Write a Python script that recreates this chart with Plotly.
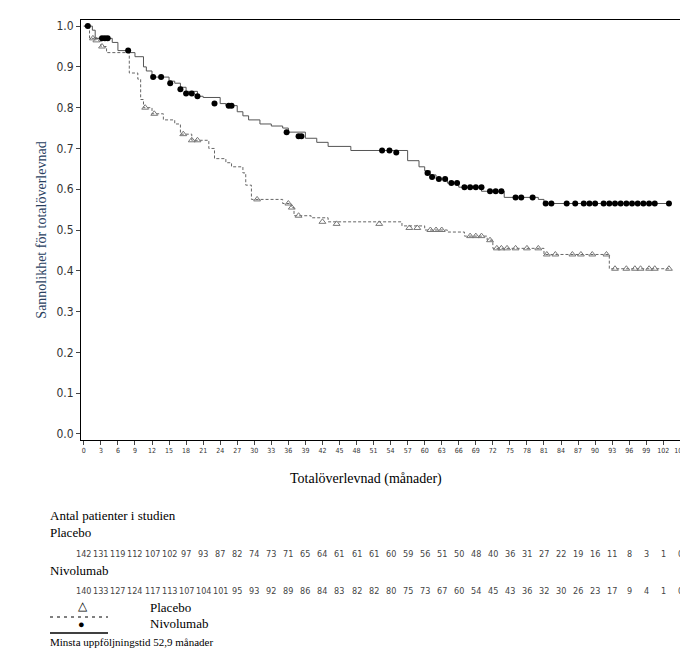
import plotly.graph_objects as go

# Kaplan-Meier step points (time in months, survival)
nivo_t = [0, 1.5, 2, 5, 6, 7.5, 9, 10.5, 11, 12, 15, 16, 17, 18, 20, 21, 24, 25, 27, 28, 29, 31, 33, 35,
          36, 39, 41, 43, 47, 57, 59, 60, 61, 62, 64, 66, 70, 74, 76, 80, 81, 103]
nivo_s = [1.0, 0.99, 0.97, 0.96, 0.94, 0.935, 0.925, 0.9, 0.89, 0.875, 0.865, 0.86, 0.85, 0.84, 0.828,
          0.825, 0.81, 0.805, 0.79, 0.78, 0.77, 0.76, 0.755, 0.75, 0.74, 0.725, 0.715, 0.705, 0.695,
          0.67, 0.655, 0.645, 0.635, 0.625, 0.615, 0.605, 0.595, 0.58, 0.58, 0.575, 0.565, 0.565]
nivo_ct = [0.7, 3.2, 3.7, 4.2, 7.8, 12.2, 13.6, 15.2, 17, 18, 19, 20, 23, 25.5, 26, 35.7, 37.8, 38.3,
           52.5, 53.8, 55, 60.5, 61.3, 62.5, 63.6, 64.7, 65.7, 67, 68, 69, 70, 71.5, 72.5, 73.5,
           76, 77, 79, 81.3, 82.3, 85, 86.5, 88, 89, 90, 91.5, 92.5, 93.5, 94.5, 95.5, 96.5, 97.5,
           98.5, 99.5, 100.5, 103]
nivo_cs = [1.0, 0.97, 0.97, 0.97, 0.94, 0.875, 0.875, 0.86, 0.845, 0.835, 0.835, 0.828, 0.81, 0.805,
           0.805, 0.74, 0.73, 0.73, 0.695, 0.695, 0.69, 0.64, 0.63, 0.625, 0.625, 0.615, 0.615, 0.605,
           0.605, 0.605, 0.605, 0.595, 0.595, 0.595, 0.58, 0.58, 0.58, 0.565, 0.565] + [0.565] * 16

plac_t = [0, 1, 3, 4, 8, 9.5, 10, 10.5, 12, 14, 16, 17, 19, 22, 23, 25, 26, 28, 28.5, 29.5, 35, 36.5,
          37, 40, 43, 56, 60, 64, 67, 71, 72, 81, 92.5, 103]
plac_s = [1.0, 0.97, 0.95, 0.935, 0.885, 0.87, 0.82, 0.8, 0.785, 0.77, 0.76, 0.735, 0.72, 0.7, 0.675,
          0.665, 0.655, 0.64, 0.61, 0.575, 0.565, 0.555, 0.535, 0.53, 0.52, 0.51, 0.5, 0.495, 0.485,
          0.475, 0.455, 0.44, 0.405, 0.405]
plac_ct = [1.6, 2.2, 3.2, 10.8, 12.4, 17.5, 19, 20, 30.5, 36, 36.6, 37.8, 42, 44.5, 52, 57.3, 58.7,
           61, 62, 63, 68, 69, 70, 71.5, 72.7, 73.5, 74.5, 76, 78, 80, 81.5, 83, 86, 87.5, 89.5, 92,
           93.5, 95.5, 97, 98, 99.5, 100.5, 103]
plac_cs = [0.97, 0.965, 0.95, 0.8, 0.785, 0.735, 0.72, 0.72, 0.575, 0.565, 0.555, 0.535, 0.52, 0.515,
           0.515, 0.505, 0.505, 0.5, 0.5, 0.5, 0.485, 0.485, 0.485, 0.475, 0.455, 0.455, 0.455, 0.455,
           0.455, 0.455, 0.44, 0.44, 0.44, 0.44, 0.44, 0.44, 0.405, 0.405, 0.405, 0.405, 0.405, 0.405,
           0.405]

risk_months = list(range(0, 106, 3))
risk_placebo = [142, 131, 119, 112, 107, 102, 97, 93, 87, 82, 74, 73, 71, 65, 64, 61, 61, 61, 60, 59,
                56, 51, 50, 48, 40, 36, 31, 27, 22, 19, 16, 11, 8, 3, 1, 0]
risk_nivo = [140, 133, 127, 124, 117, 113, 107, 104, 101, 95, 93, 92, 89, 86, 84, 83, 82, 82, 80, 75,
             73, 67, 60, 54, 45, 43, 36, 32, 30, 26, 23, 17, 9, 4, 1, 0]

SERIF = "Liberation Serif, Times New Roman, serif"
SANS = "Liberation Sans Narrow, DejaVu Sans Condensed, Arial Narrow, sans-serif"
H_PLOT = 420  # plot height in px, used to place text below the axes

fig = go.Figure()
fig.add_trace(go.Scatter(x=plac_t, y=plac_s, mode="lines", line_shape="hv",
                         line=dict(color="#666", width=1, dash="3px,2px")))
fig.add_trace(go.Scatter(x=plac_ct, y=plac_cs, mode="markers",
                         marker=dict(symbol="triangle-up-open", size=6, color="#777", line=dict(width=1))))
fig.add_trace(go.Scatter(x=nivo_t, y=nivo_s, mode="lines", line_shape="hv",
                         line=dict(color="#555", width=1)))
fig.add_trace(go.Scatter(x=nivo_ct, y=nivo_cs, mode="markers",
                         marker=dict(symbol="circle", size=6, color="black")))


def py(pix):
    return (432 - pix) / H_PLOT


ann = []
for m, a, b in zip(risk_months, risk_placebo, risk_nivo):
    ann.append(dict(x=m, y=py(553), xref="x", yref="paper", text=str(a), showarrow=False,
                    font=dict(family=SANS, size=9, color="#444")))
    ann.append(dict(x=m, y=py(590), xref="x", yref="paper", text=str(b), showarrow=False,
                    font=dict(family=SANS, size=9, color="#444")))

texts = [
    (358, 481, "Totalöverlevnad (månader)", "center", 14),
    (40, 517, "Antal patienter i studien", "left", 13),
    (40, 534, "Placebo", "left", 13),
    (40, 572, "Nivolumab", "left", 13),
    (140, 609, "Placebo", "left", 13),
    (140, 625, "Nivolumab", "left", 13),
    (40, 642, "Minsta uppföljningstid 52,9 månader", "left", 11),
]
for xp, yp, t, al, sz in texts:
    ann.append(dict(x=(xp - 73) / 605, y=py(yp), xref="paper", yref="paper", text=t, showarrow=False,
                    xanchor=al, font=dict(family=SERIF, size=sz, color="black")))
ann.append(dict(x=(68 - 73) / 605, y=py(608), xref="paper", yref="paper", text="△", showarrow=False,
                font=dict(size=12, color="black")))
ann.append(dict(x=(68 - 73) / 605, y=py(625), xref="paper", yref="paper", text="●", showarrow=False,
                font=dict(size=11, color="black")))

shapes = [
    dict(type="line", xref="paper", yref="paper", x0=(42 - 73) / 605, x1=(100 - 73) / 605,
         y0=py(609), y1=py(609), line=dict(color="black", width=1, dash="3px,4px")),
    dict(type="line", xref="paper", yref="paper", x0=(42 - 73) / 605, x1=(100 - 73) / 605,
         y0=py(625), y1=py(625), line=dict(color="black", width=1.3)),
]

fig.update_layout(
    width=688, height=657, showlegend=False,
    margin=dict(l=73, r=10, t=12, b=225, autoexpand=False),
    plot_bgcolor="white", paper_bgcolor="white",
    annotations=ann, shapes=shapes,
    xaxis=dict(range=[-0.5, 106], tickvals=list(range(0, 106, 3)), ticks="outside", ticklen=4,
               tickangle=0, automargin=False,
               showgrid=False, zeroline=False, showline=True, linecolor="black", mirror=True,
               tickfont=dict(family=SANS, size=7, color="#333")),
    yaxis=dict(range=[-0.015, 1.015], tickvals=[i / 10 for i in range(11)], tickformat=".1f",
               ticks="outside", ticklen=4, showgrid=False, zeroline=False, showline=True,
               automargin=False,
               linecolor="black", mirror=True, tickfont=dict(family=SANS, size=12, color="#333"),
               title=dict(text="Sannolikhet för totalöverlevnad", font=dict(family=SERIF, size=14),
                          standoff=6)),
)

fig.write_html("out.html")
